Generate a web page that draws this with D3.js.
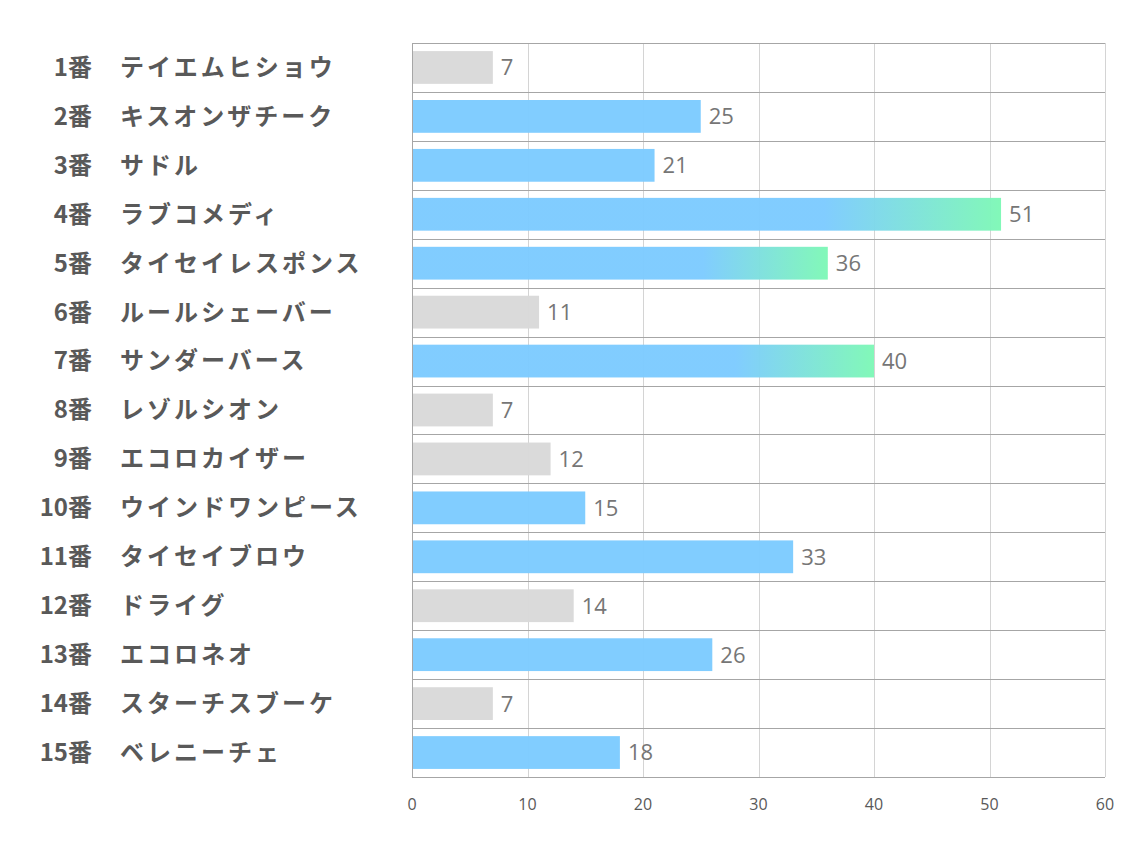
<!DOCTYPE html>
<html>
<head>
<meta charset="utf-8">
<script src="https://cdn.jsdelivr.net/npm/d3@7"></script>
<style>
  body { margin: 0; background: #fff; }
</style>
</head>
<body>
<svg id="chart" width="1134" height="850"></svg>
<script>
// data
var numbers = ["1番", "2番", "3番", "4番", "5番", "6番", "7番", "8番", "9番", "10番", "11番", "12番", "13番", "14番", "15番"];
var names = ["テイエムヒショウ", "キスオンザチーク", "サドル", "ラブコメディ", "タイセイレスポンス", "ルールシェーバー", "サンダーバース", "レゾルシオン", "エコロカイザー", "ウインドワンピース", "タイセイブロウ", "ドライグ", "エコロネオ", "スターチスブーケ", "ベレニーチェ"];
var values = [7, 25, 21, 51, 36, 11, 40, 7, 12, 15, 33, 14, 26, 7, 18];
var xTicks = [0, 10, 20, 30, 40, 50, 60];

var svg = d3.select("#chart"),
    plotLeft = 412, plotRight = 1105, plotTop = 43, plotBottom = 777;

var x = d3.scaleLinear().domain([0, 60]).range([plotLeft, plotRight]);
var y = d3.scaleBand().domain(d3.range(values.length)).range([plotTop, plotBottom]).paddingInner(0.33).paddingOuter(0.165);
var rows = d3.scaleBand().domain(d3.range(values.length)).range([plotTop, plotBottom]);

/* gradient voor de hoogste balken */
var grad = svg.append("defs").append("linearGradient")
    .attr("id", "topGrad")
    .attr("x1", "0").attr("x2", "1").attr("y1", "0").attr("y2", "0");
grad.append("stop").attr("offset", "0.7").attr("stop-color", "#7dcbff");
grad.append("stop").attr("offset", "1").attr("stop-color", "#7ef8b6");

function fillFor(v) {
  if (v >= 36) return "url(#topGrad)";
  if (v >= 15) return "#7dcbff";
  return "#d9d9d9";
}

// vertical gridlines
svg.append("g").selectAll("line")
  .data(xTicks.slice(1))
  .enter().append("line")
    .attr("x1", function(d) { return Math.round(x(d)) + 0.5; })
    .attr("x2", function(d) { return Math.round(x(d)) + 0.5; })
    .attr("y1", plotTop).attr("y2", plotBottom)
    .attr("stroke", "#d4d4d4").attr("stroke-width", 1);

// bars
svg.append("g").selectAll("rect")
  .data(values)
  .enter().append("rect")
    .attr("x", x(0))
    .attr("y", function(d, i) { return y(i); })
    .attr("width", function(d) { return x(d) - x(0); })
    .attr("height", y.bandwidth())
    .attr("fill", function(d) { return fillFor(d); })
    .attr("fill-opacity", 0.97);

// row separators
svg.append("g").selectAll("line")
  .data(d3.range(values.length + 1))
  .enter().append("line")
    .attr("x1", plotLeft).attr("x2", plotRight)
    .attr("y1", function(i) { return Math.round(plotTop + i * rows.step()) + 0.5; })
    .attr("y2", function(i) { return Math.round(plotTop + i * rows.step()) + 0.5; })
    .attr("stroke", "#a6a6a6").attr("stroke-width", 1);

// left axis line
svg.append("line")
  .attr("x1", plotLeft + 0.5).attr("x2", plotLeft + 0.5)
  .attr("y1", plotTop).attr("y2", plotBottom)
  .attr("stroke", "#a6a6a6");

// value labels
svg.append("g").selectAll("text")
  .data(values)
  .enter().append("text")
    .attr("x", function(d) { return x(d) + 8; })
    .attr("y", function(d, i) { return rows(i) + rows.bandwidth() / 2; })
    .attr("dy", "0.36em")
    .attr("font-family", "'Open Sans', 'Noto Sans', sans-serif")
    .attr("font-size", "22px")
    .attr("fill", "#767676")
    .text(function(d) { return d; });

// category labels
var cat = svg.append("g")
    .attr("font-family", "'Noto Sans CJK JP', sans-serif")
    .attr("font-weight", "bold")
    .attr("font-size", "24px")
    .attr("fill", "#595959");

cat.selectAll(".num")
  .data(numbers)
  .enter().append("text")
    .attr("class", "num")
    .attr("x", 92)
    .attr("y", function(d, i) { return rows(i) + rows.bandwidth() / 2; })
    .attr("dy", "0.35em")
    .attr("text-anchor", "end")
    .text(function(d) { return d; });

cat.selectAll(".name")
  .data(names)
  .enter().append("text")
    .attr("class", "name")
    .attr("x", 120)
    .attr("y", function(d, i) { return rows(i) + rows.bandwidth() / 2; })
    .attr("dy", "0.35em")
    .attr("letter-spacing", "3px")
    .text(function(d) { return d; });

// x axis tick labels
svg.append("g").selectAll("text")
  .data(xTicks)
  .enter().append("text")
    .attr("x", function(d) { return x(d); })
    .attr("y", 810)
    .attr("text-anchor", "middle")
    .attr("font-family", "'Open Sans', 'Noto Sans', sans-serif")
    .attr("font-size", "16px")
    .attr("fill", "#595959")
    .text(function(d) { return d; });
</script>
</body>
</html>
